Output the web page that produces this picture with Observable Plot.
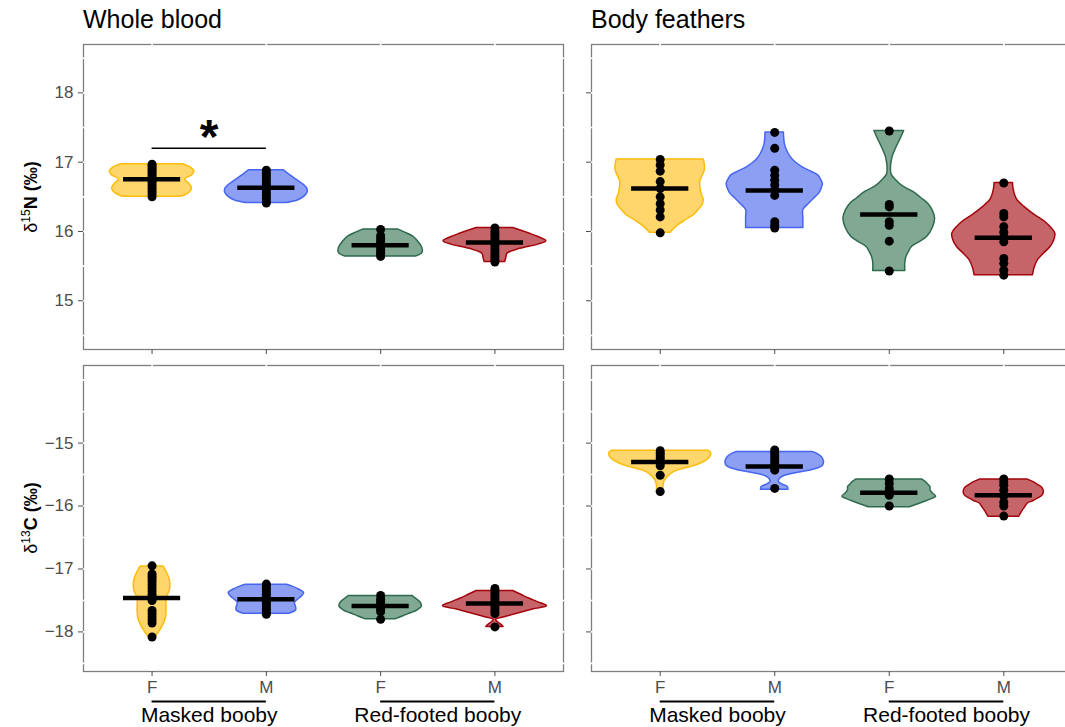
<!DOCTYPE html>
<html><head><meta charset="utf-8">
<script src="https://cdn.jsdelivr.net/npm/d3@7"></script>
<script src="https://cdn.jsdelivr.net/npm/@observablehq/plot@0.6"></script>
<style>
body{margin:0;background:#fff;}
#wrap{position:relative;width:1065px;height:727px;overflow:hidden;background:#fff;font-family:"Liberation Sans",Arial,Helvetica,sans-serif;}
#wrap svg{position:absolute;}
</style></head>
<body><div id="wrap"></div>
<script>
// ---------- categories / labels ----------
const tissues = ["Whole blood", "Body feathers"];
const sexes = ["F", "M", "F", "M"];
const speciesNames = ["Masked booby", "Red-footed booby"];
const groupFill = ["#fed66b", "#8c9ff3", "#80a893", "#c5656a"];
const groupStroke = ["#fcbc0c", "#4766ee", "#2e6a4d", "#a3050c"];
const nTicks = [15, 16, 17, 18];
const cTicks = [-18, -17, -16, -15];
const nGrid = [14.5, 15, 15.5, 16, 16.5, 17, 17.5, 18, 18.5];
const cGrid = [-18.5, -18, -17.5, -17, -16.5, -16, -15.5, -15, -14.5, -14];
const nDomain = [14.297, 18.698];
const cDomain = [-18.629, -13.767];
const yTitles = [{sup: "15", letter: "N"}, {sup: "13", letter: "C"}];

// ---------- Whole blood, δ15N ----------
const wbN_means = [16.755, 16.63, 15.80, 15.84];
const wbN_points = [
  [16.50,16.54,16.58,16.62,16.66,16.70,16.73,16.76,16.79,16.82,16.85,16.88,16.91,16.94,16.97],
  [16.41,16.44,16.48,16.52,16.56,16.60,16.64,16.68,16.72,16.76,16.80,16.84,16.885],
  [15.64,15.67,15.70,15.74,15.78,15.82,15.86,15.90,15.94,16.03],
  [15.56,15.60,15.64,15.68,15.72,15.76,15.80,15.84,15.88,15.92,15.96,16.00,16.05]
];
const wbN_violins = [
  [[16.50,0.25],[16.55,0.32],[16.62,0.35],[16.68,0.33],[16.75,0.29],[16.81,0.35],[16.86,0.37],[16.92,0.34],[16.97,0.27]],
  [[16.41,0.18],[16.45,0.28],[16.50,0.33],[16.56,0.36],[16.61,0.36],[16.67,0.33],[16.74,0.27],[16.81,0.21],[16.885,0.15]],
  [[15.64,0.31],[15.68,0.36],[15.72,0.37],[15.78,0.36],[15.85,0.33],[15.92,0.29],[15.98,0.22],[16.03,0.15]],
  [[15.56,0.09],[15.62,0.10],[15.68,0.11],[15.75,0.22],[15.81,0.38],[15.86,0.45],[15.92,0.38],[15.97,0.30],[16.05,0.16]]
];
const wbN_signif = [{a: 0, b: 1, y: 17.2, label: "*"}];

// ---------- Body feathers, δ15N ----------
const bfN_means = [16.62, 16.59, 16.245, 15.91];
const bfN_points = [
  [15.98,16.21,16.31,16.40,16.50,16.62,16.72,16.87,16.96,17.04],
  [16.05,16.09,16.14,16.52,16.60,16.67,16.74,16.81,16.885,17.20,17.43],
  [15.43,15.86,16.09,16.14,16.355,16.39,17.45],
  [15.37,15.44,15.54,15.61,15.85,15.92,15.99,16.07,16.21,16.26,16.70]
];
const bfN_violins = [
  [[15.98,0.09],[16.08,0.15],[16.16,0.22],[16.23,0.29],[16.30,0.33],[16.38,0.37],[16.45,0.38],[16.55,0.36],[16.65,0.35],[16.72,0.35],[16.80,0.37],[16.885,0.39],[16.96,0.39],[17.04,0.38]],
  [[16.05,0.25],[16.20,0.25],[16.31,0.25],[16.40,0.30],[16.47,0.34],[16.55,0.39],[16.62,0.41],[16.69,0.42],[16.76,0.40],[16.81,0.38],[16.87,0.31],[16.93,0.24],[17.03,0.16],[17.125,0.12],[17.25,0.09],[17.43,0.08]],
  [[15.43,0.14],[15.55,0.14],[15.63,0.15],[15.70,0.17],[15.78,0.20],[15.85,0.27],[15.92,0.33],[16.05,0.38],[16.19,0.40],[16.30,0.38],[16.40,0.34],[16.48,0.28],[16.57,0.21],[16.65,0.12],[16.74,0.06],[16.82,0.02],[16.92,0.015],[17.00,0.02],[17.08,0.03],[17.20,0.06],[17.32,0.095],[17.45,0.13]],
  [[15.37,0.255],[15.48,0.27],[15.59,0.30],[15.68,0.35],[15.78,0.41],[15.87,0.44],[15.97,0.45],[16.06,0.41],[16.14,0.36],[16.25,0.26],[16.355,0.18],[16.45,0.12],[16.52,0.10],[16.62,0.085],[16.70,0.08]]
];

// ---------- Whole blood, δ13C ----------
const wbC_means = [-17.46, -17.48, -17.59, -17.55];
const wbC_points = [
  [-16.95,-17.08,-17.12,-17.16,-17.20,-17.25,-17.30,-17.35,-17.40,-17.45,-17.50,-17.66,-17.71,-17.76,-17.81,-17.86,-18.08],
  [-17.24,-17.28,-17.32,-17.36,-17.40,-17.44,-17.48,-17.52,-17.56,-17.60,-17.64,-17.68,-17.72],
  [-17.42,-17.48,-17.52,-17.56,-17.60,-17.64,-17.68,-17.80],
  [-17.31,-17.35,-17.39,-17.43,-17.47,-17.51,-17.55,-17.59,-17.63,-17.67,-17.71,-17.92]
];
const wbC_violins = [
  [[-18.08,0.03],[-17.98,0.07],[-17.88,0.10],[-17.79,0.12],[-17.70,0.125],[-17.63,0.127],[-17.54,0.125],[-17.45,0.13],[-17.37,0.15],[-17.29,0.16],[-17.20,0.158],[-17.13,0.148],[-17.04,0.125],[-16.96,0.10]],
  [[-17.71,0.20],[-17.66,0.26],[-17.61,0.26],[-17.54,0.25],[-17.47,0.29],[-17.42,0.32],[-17.38,0.33],[-17.33,0.29],[-17.28,0.23],[-17.25,0.18]],
  [[-17.80,0.13],[-17.75,0.20],[-17.70,0.27],[-17.66,0.32],[-17.60,0.36],[-17.55,0.355],[-17.50,0.33],[-17.46,0.30],[-17.43,0.28]],
  [[-17.92,0.075],[-17.89,0.06],[-17.85,0.03],[-17.81,0.01],[-17.76,0.10],[-17.70,0.22],[-17.64,0.34],[-17.59,0.455],[-17.53,0.38],[-17.47,0.30],[-17.41,0.23],[-17.35,0.16]]
];

// ---------- Body feathers, δ13C ----------
const bfC_means = [-15.30, -15.37, -15.79, -15.83];
const bfC_points = [
  [-15.12,-15.16,-15.20,-15.24,-15.28,-15.32,-15.36,-15.51,-15.77],
  [-15.11,-15.15,-15.19,-15.23,-15.27,-15.31,-15.35,-15.39,-15.43,-15.72],
  [-15.57,-15.64,-15.72,-15.77,-15.83,-16.00],
  [-15.57,-15.62,-15.67,-15.75,-15.84,-15.94,-16.00,-16.16]
];
const bfC_violins = [
  [[-15.78,0.03],[-15.70,0.028],[-15.64,0.033],[-15.59,0.044],[-15.53,0.07],[-15.46,0.12],[-15.41,0.20],[-15.37,0.29],[-15.32,0.36],[-15.27,0.41],[-15.21,0.44],[-15.16,0.445],[-15.12,0.42]],
  [[-15.74,0.12],[-15.70,0.115],[-15.66,0.07],[-15.62,0.036],[-15.57,0.045],[-15.53,0.075],[-15.48,0.18],[-15.44,0.30],[-15.40,0.38],[-15.36,0.42],[-15.29,0.43],[-15.22,0.41],[-15.16,0.36],[-15.14,0.33]],
  [[-16.02,0.18],[-15.98,0.24],[-15.94,0.30],[-15.89,0.37],[-15.85,0.41],[-15.80,0.38],[-15.75,0.36],[-15.70,0.36],[-15.67,0.345],[-15.62,0.32],[-15.58,0.29]],
  [[-16.17,0.135],[-16.12,0.15],[-16.07,0.167],[-16.01,0.19],[-15.96,0.21],[-15.92,0.26],[-15.88,0.30],[-15.83,0.34],[-15.78,0.35],[-15.72,0.34],[-15.67,0.305],[-15.62,0.26],[-15.58,0.21]]
];

const FONT = '"Liberation Sans", Arial, Helvetica, sans-serif';
const fmtNum = d => d < 0 ? "\u2212" + Math.abs(d) : String(d);

function panel(o) {
  const marks = [
    Plot.frame({stroke: "#7f7f7f", strokeWidth: 1.3}),
    Plot.ruleY(o.grid, {stroke: "white", strokeWidth: 1.6, insetLeft: -1.5, insetRight: -1.5}),
    Plot.ruleX([0, 1, 2, 3], {stroke: "white", strokeWidth: 1.6, insetTop: -1.5})
  ];
  o.violins.forEach((prof, i) => {
    marks.push(Plot.areaX(prof.map(([v, hw]) => ({v, a: i - hw, b: i + hw})),
      {y: "v", x1: "a", x2: "b", fill: groupFill[i], stroke: groupStroke[i], strokeWidth: 1.5, curve: "catmull-rom"}));
  });
  const pts = o.points.flatMap((arr, i) => arr.map(v => ({i, v})));
  marks.push(Plot.dot(pts, {x: "i", y: "v", r: 4.5, fill: "black"}));
  const mr = o.means.map((m, i) => ({i, m}));
  marks.push(Plot.ruleY(mr, {y: "m", x1: d => d.i - 0.25, x2: d => d.i + 0.25, stroke: "black", strokeWidth: 4.5}));
  marks.push(Plot.axisY({ticks: o.yTicks, tickSize: 5, tickPadding: 5, fontSize: 17, color: "#4d4d4d", label: null,
    tickFormat: o.yLabels ? fmtNum : () => ""}));
  marks.push(Plot.axisX({ticks: [0, 1, 2, 3], tickSize: 5, tickPadding: 4.5, fontSize: 17, color: "#4d4d4d", label: null,
    tickFormat: o.xLabels ? (i => sexes[i]) : () => ""}));
  if (o.title) {
    marks.push(Plot.text([o.title], {text: d => d, frameAnchor: "top-left", textAnchor: "start", lineAnchor: "bottom",
      dy: -16.5, dx: -0.5, fontSize: 25, fill: "black"}));
  }
  if (o.signif) {
    marks.push(Plot.ruleY(o.signif, {y: "y", x1: "a", x2: "b", stroke: "black", strokeWidth: 1.6}));
    marks.push(Plot.text(o.signif, {x: d => (d.a + d.b) / 2, y: "y", text: "label", lineAnchor: "bottom",
      dy: 5, fontSize: 48, fontWeight: "bold", fill: "black"}));
  }
  if (o.xLabels) {
    const sp = speciesNames.map((name, k) => ({name, a: 2 * k, b: 2 * k + 1, base: o.yDomain[0]}));
    marks.push(Plot.ruleY(sp, {y: "base", x1: "a", x2: "b", dy: 30, stroke: "black", strokeWidth: 1.8}));
    marks.push(Plot.text(sp, {x: d => (d.a + d.b) / 2, text: "name", frameAnchor: "bottom", lineAnchor: "bottom",
      dy: 50.5, fontSize: 21, fill: "black"}));
  }
  const svg = Plot.plot({
    width: o.width, height: o.height,
    marginLeft: o.ml, marginRight: o.mr, marginTop: o.mt, marginBottom: o.mb,
    x: {domain: [-0.6, 3.6]},
    y: {domain: o.yDomain},
    style: {fontFamily: FONT, background: "transparent", overflow: "visible", maxWidth: "none"},
    marks
  });
  svg.style.left = o.left + "px";
  svg.style.top = o.top + "px";
  return svg;
}

const wrap = document.getElementById("wrap");
wrap.append(panel({left: 0, top: 0, width: 566, height: 360, ml: 83, mr: 3, mt: 44, mb: 11,
  yDomain: nDomain, yTicks: nTicks, grid: nGrid, yLabels: true, xLabels: false, title: tissues[0],
  violins: wbN_violins, points: wbN_points, means: wbN_means, signif: wbN_signif}));
wrap.append(panel({left: 581, top: 0, width: 494, height: 360, ml: 10, mr: 3, mt: 44, mb: 11,
  yDomain: nDomain, yTicks: nTicks, grid: nGrid, yLabels: false, xLabels: false, title: tissues[1],
  violins: bfN_violins, points: bfN_points, means: bfN_means}));
wrap.append(panel({left: 0, top: 355, width: 566, height: 372, ml: 83, mr: 3, mt: 10, mb: 56,
  yDomain: cDomain, yTicks: cTicks, grid: cGrid, yLabels: true, xLabels: true,
  violins: wbC_violins, points: wbC_points, means: wbC_means}));
wrap.append(panel({left: 581, top: 355, width: 494, height: 372, ml: 10, mr: 3, mt: 10, mb: 56,
  yDomain: cDomain, yTicks: cTicks, grid: cGrid, yLabels: false, xLabels: true,
  violins: bfC_violins, points: bfC_points, means: bfC_means}));

// rotated y-axis titles (δ with superscript mass number, bold element + unit)
const NS = "http://www.w3.org/2000/svg";
const tsvg = document.createElementNS(NS, "svg");
tsvg.setAttribute("width", 60); tsvg.setAttribute("height", 727);
tsvg.style.left = "0px"; tsvg.style.top = "0px";
[197, 518].forEach((cy, k) => {
  const t = document.createElementNS(NS, "text");
  t.setAttribute("transform", `translate(37,${cy}) rotate(-90)`);
  t.setAttribute("text-anchor", "middle");
  t.setAttribute("font-family", FONT);
  t.setAttribute("font-size", 18);
  t.setAttribute("fill", "black");
  const s1 = document.createElementNS(NS, "tspan"); s1.textContent = "\u03b4";
  const s2 = document.createElementNS(NS, "tspan"); s2.textContent = yTitles[k].sup;
  s2.setAttribute("font-size", 12); s2.setAttribute("dy", -7.5);
  const s3 = document.createElementNS(NS, "tspan"); s3.textContent = yTitles[k].letter + " (\u2030)";
  s3.setAttribute("font-weight", "bold"); s3.setAttribute("dy", 7.5);
  t.append(s1, s2, s3);
  tsvg.append(t);
});
wrap.append(tsvg);
</script>
</body></html>
